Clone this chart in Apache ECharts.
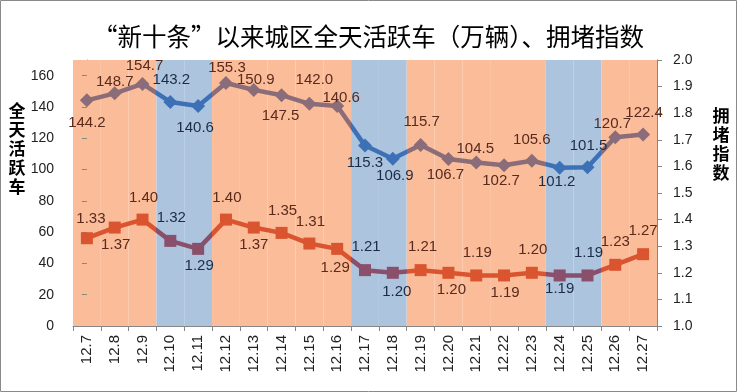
<!DOCTYPE html>
<html>
<head>
<meta charset="utf-8">
<script src="https://cdn.jsdelivr.net/npm/echarts@6/dist/echarts.min.js"></script>
<style>
html,body{margin:0;padding:0;background:#fff;}
#chart{width:737px;height:392px;}
</style>
</head>
<body>
<div id="chart"></div>
<script>
// ---- data ----
const categories = ['12.7','12.8','12.9','12.10','12.11','12.12','12.13','12.14','12.15','12.16','12.17','12.18','12.19','12.20','12.21','12.22','12.23','12.24','12.25','12.26','12.27'];
const activeCars = [144.2,148.7,154.7,143.2,140.6,155.3,150.9,147.5,142.0,140.6,115.3,106.9,115.7,106.7,104.5,102.7,105.6,101.2,101.5,120.7,122.4];
const congestion = [1.33,1.37,1.40,1.32,1.29,1.40,1.37,1.35,1.31,1.29,1.21,1.20,1.21,1.20,1.19,1.19,1.20,1.19,1.19,1.23,1.27];
const isWeekend = [0,0,0,1,1,0,0,0,0,0,1,1,0,0,0,0,0,1,1,0,0];
const leftTickValues = [0,20,40,60,80,100,120,140,160];
const title = '“新十条”以来城区全天活跃车（万辆）、拥堵指数';
const leftName = '全天活跃车';
const rightName = '拥堵指数';

// ---- label placement (style) ----
const carLabelOffsets = [[0,22],[0,-11],[2,-18],[1,-22],[-3,22],[1,-15],[2,-10],[-1,21],[5,-24],[4,-8],[0,17],[2,17],[1,-23],[-3,16],[-1,-14],[-3,16],[0,-21],[-3,14],[1,-21],[-3,-13],[1,-22]];
const idxLabelOffsets = [[4,-19],[1,17],[1,-22],[1,-23],[1,17],[1,-22],[0,17],[1,-22],[1,-22],[-2,19],[1,-23],[4,19],[2,-23],[3,17],[1,-23],[1,17],[1,-23],[0,13],[1,-23],[0,-23],[0,-23]];

const C = {
  bandWd: '#fbbc99', bandWe: '#acc4de',
  carWd: '#8b6c79', carWe: '#3d71b7',
  idxWd: '#da552f', idxWe: '#8a4f6b',
  lblWd: '#5a2a1c', lblWe: '#1d2c46'
};

function buildPieces(cWd, cWe) {
  const pieces = [];
  let s = 0;
  for (let i = 1; i <= isWeekend.length; i++) {
    if (i === isWeekend.length || isWeekend[i] !== isWeekend[s]) {
      pieces.push({
        gte: s === 0 ? -5 : s - 0.5,
        lt: i === isWeekend.length ? 50 : i - 0.5,
        color: isWeekend[s] ? cWe : cWd
      });
      s = i;
    }
  }
  return pieces;
}

const labelFont = {fontSize: 15, fontFamily: 'Liberation Sans'};

const carData = activeCars.map((v, i) => ({
  value: [i, v],
  label: Object.assign({show: true, position: 'inside', offset: carLabelOffsets[i],
    color: isWeekend[i] ? C.lblWe : C.lblWd, formatter: p => p.value[1].toFixed(1)}, labelFont)
}));
const idxData = congestion.map((v, i) => ({
  value: [i, v],
  label: Object.assign({show: true, position: 'inside', offset: idxLabelOffsets[i],
    color: isWeekend[i] ? C.lblWe : C.lblWd, formatter: p => p.value[1].toFixed(2)}, labelFont)
}));
const bandData = categories.map((c, i) => ({
  value: 1,
  itemStyle: {color: isWeekend[i] ? C.bandWe : C.bandWd}
}));

const axisText = {color: '#222', fontSize: 14, fontFamily: 'Liberation Sans'};
const axisLineGray = {show: true, lineStyle: {color: '#868686', width: 1}};

const chart = echarts.init(document.getElementById('chart'), null, {renderer: 'canvas'});
chart.setOption({
  animation: false,
  backgroundColor: '#fff',
  title: {
    text: title, left: 'center', top: 19,
    textStyle: {fontSize: 24.5, fontWeight: 'normal', color: '#000', fontFamily: 'Noto Sans CJK SC'}
  },
  grid: {left: 73, right: 80, top: 60, bottom: 66, containLabel: false},
  xAxis: [{
    type: 'category', data: categories, boundaryGap: true,
    axisLine: axisLineGray,
    axisTick: {show: true, inside: false, length: 5, alignWithLabel: false, lineStyle: {color: '#868686'}},
    axisLabel: Object.assign({}, axisText, {rotate: 90, margin: 9, interval: 0, fontSize: 15}),
    splitLine: {show: false}
  }, {
    type: 'value', min: -0.5, max: categories.length - 0.5, show: false
  }],
  yAxis: [{
    type: 'value', min: 0, max: 170, interval: 20, position: 'left',
    axisLine: axisLineGray,
    axisTick: {show: true, inside: false, length: 5, lineStyle: {color: '#868686'}, customValues: leftTickValues},
    axisLabel: Object.assign({margin: 19, customValues: leftTickValues,
      formatter: v => (v > 160 ? '' : String(v))}, axisText),
    splitLine: {show: false}
  }, {
    type: 'value', min: 1, max: 2, interval: 0.1, position: 'right',
    axisLine: axisLineGray,
    axisTick: {show: true, inside: false, length: 5, lineStyle: {color: '#868686'}},
    axisLabel: Object.assign({margin: 16, formatter: v => v.toFixed(1)}, axisText),
    splitLine: {show: false}
  }, {
    type: 'value', min: 0, max: 1, show: false
  }],
  visualMap: [{
    type: 'piecewise', show: false, seriesIndex: 1, dimension: 0,
    pieces: buildPieces(C.carWd, C.carWe)
  }, {
    type: 'piecewise', show: false, seriesIndex: 2, dimension: 0,
    pieces: buildPieces(C.idxWd, C.idxWe)
  }],
  series: [{
    type: 'bar', xAxisIndex: 0, yAxisIndex: 2, data: bandData,
    barWidth: '100%', barCategoryGap: '0%', silent: true, z: 0
  }, {
    type: 'line', xAxisIndex: 1, yAxisIndex: 0, data: carData,
    symbol: 'diamond', symbolSize: 14, lineStyle: {width: 4.5},
    z: 3
  }, {
    type: 'line', xAxisIndex: 1, yAxisIndex: 1, data: idxData,
    symbol: 'rect', symbolSize: 12, lineStyle: {width: 4.5},
    z: 4
  }],
  graphic: [{
    type: 'rect', shape: {x: 0.5, y: 0.5, width: 736, height: 391},
    style: {fill: 'none', stroke: '#8a8a8a', lineWidth: 1}, silent: true, z: 100
  }, {
    type: 'text', x: 17, y: 101,
    style: {text: leftName.split('').join('\n'), font: 'bold 17px "Noto Sans CJK SC"', fill: '#000',
      textAlign: 'center', lineHeight: 19}
  }, {
    type: 'text', x: 721, y: 106,
    style: {text: rightName.split('').join('\n'), font: 'bold 17px "Noto Sans CJK SC"', fill: '#000',
      textAlign: 'center', lineHeight: 19}
  }]
});
</script>
</body>
</html>
